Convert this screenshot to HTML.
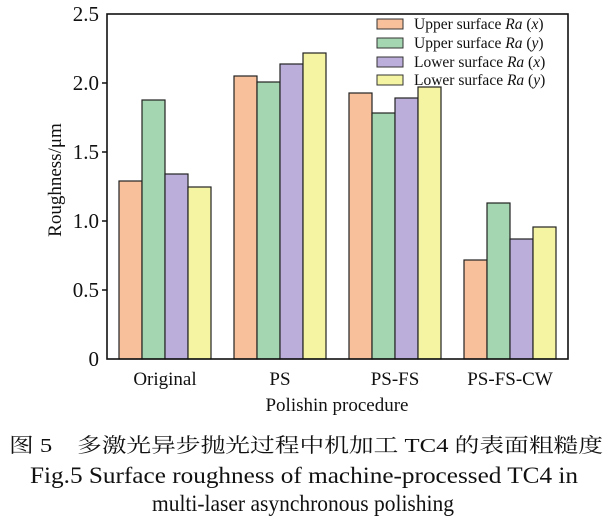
<!DOCTYPE html>
<html><head><meta charset="utf-8"><style>
body{margin:0;background:#fff;width:612px;height:524px;overflow:hidden}
text{font-family:"Liberation Serif","Noto Serif CJK SC",serif;fill:#111}
</style></head><body>
<svg width="612" height="524" viewBox="0 0 612 524" xmlns="http://www.w3.org/2000/svg">
<g stroke="#222" stroke-width="1.2">
<rect x="119" y="181" width="23" height="178" fill="#f8c19b"/>
<rect x="142" y="100" width="23" height="259" fill="#a4d7b1"/>
<rect x="165" y="174" width="23" height="185" fill="#bcaedb"/>
<rect x="188" y="187" width="23" height="172" fill="#f4f4a3"/>
<rect x="234" y="76" width="23" height="283" fill="#f8c19b"/>
<rect x="257" y="82" width="23" height="277" fill="#a4d7b1"/>
<rect x="280" y="64" width="23" height="295" fill="#bcaedb"/>
<rect x="303" y="53" width="23" height="306" fill="#f4f4a3"/>
<rect x="349" y="93" width="23" height="266" fill="#f8c19b"/>
<rect x="372" y="113" width="23" height="246" fill="#a4d7b1"/>
<rect x="395" y="98" width="23" height="261" fill="#bcaedb"/>
<rect x="418" y="87" width="23" height="272" fill="#f4f4a3"/>
<rect x="464" y="260" width="23" height="99" fill="#f8c19b"/>
<rect x="487" y="203" width="23" height="156" fill="#a4d7b1"/>
<rect x="510" y="239" width="23" height="120" fill="#bcaedb"/>
<rect x="533" y="227" width="23" height="132" fill="#f4f4a3"/>
</g>
<rect x="107" y="14" width="461" height="345" fill="none" stroke="#111" stroke-width="1.6"/>
<g stroke="#111" stroke-width="1.5">
<line x1="102" y1="83" x2="107" y2="83"/><line x1="102" y1="152" x2="107" y2="152"/>
<line x1="102" y1="221" x2="107" y2="221"/><line x1="102" y1="290" x2="107" y2="290"/>
</g>
<g font-size="21" text-anchor="end">
<text x="99" y="21">2.5</text><text x="99" y="90">2.0</text><text x="99" y="159">1.5</text>
<text x="99" y="228">1.0</text><text x="99" y="297">0.5</text><text x="99" y="366">0</text>
</g>
<text transform="translate(61,180) rotate(-90)" font-size="19" text-anchor="middle">Roughness/μm</text>
<g font-size="19" text-anchor="middle">
<text x="165" y="385">Original</text><text x="280" y="385">PS</text>
<text x="395" y="385">PS-FS</text><text x="510" y="385">PS-FS-CW</text>
<text x="337" y="411">Polishin procedure</text>
</g>
<g stroke="#333" stroke-width="1">
<rect x="377" y="19" width="26" height="10" fill="#f8c19b"/>
<rect x="377" y="38" width="26" height="10" fill="#a4d7b1"/>
<rect x="377" y="57" width="26" height="10" fill="#bcaedb"/>
<rect x="377" y="75" width="26" height="10" fill="#f4f4a3"/>
</g>
<g font-size="15.5">
<text x="414" y="29">Upper surface <tspan font-style="italic">Ra</tspan> (<tspan font-style="italic">x</tspan>)</text>
<text x="414" y="48">Upper surface <tspan font-style="italic">Ra</tspan> (<tspan font-style="italic">y</tspan>)</text>
<text x="414" y="67">Lower surface <tspan font-style="italic">Ra</tspan> (<tspan font-style="italic">x</tspan>)</text>
<text x="414" y="85">Lower surface <tspan font-style="italic">Ra</tspan> (<tspan font-style="italic">y</tspan>)</text>
</g>
<text x="306" y="452" font-size="20" text-anchor="middle" textLength="594" lengthAdjust="spacingAndGlyphs">图 5　多激光异步抛光过程中机加工 TC4 的表面粗糙度</text>
<text x="304" y="483" font-size="23" text-anchor="middle" textLength="548" lengthAdjust="spacingAndGlyphs">Fig.5 Surface roughness of machine-processed TC4 in</text>
<text x="303" y="511" font-size="23" text-anchor="middle" textLength="302" lengthAdjust="spacingAndGlyphs">multi-laser asynchronous polishing</text>
</svg>
</body></html>
